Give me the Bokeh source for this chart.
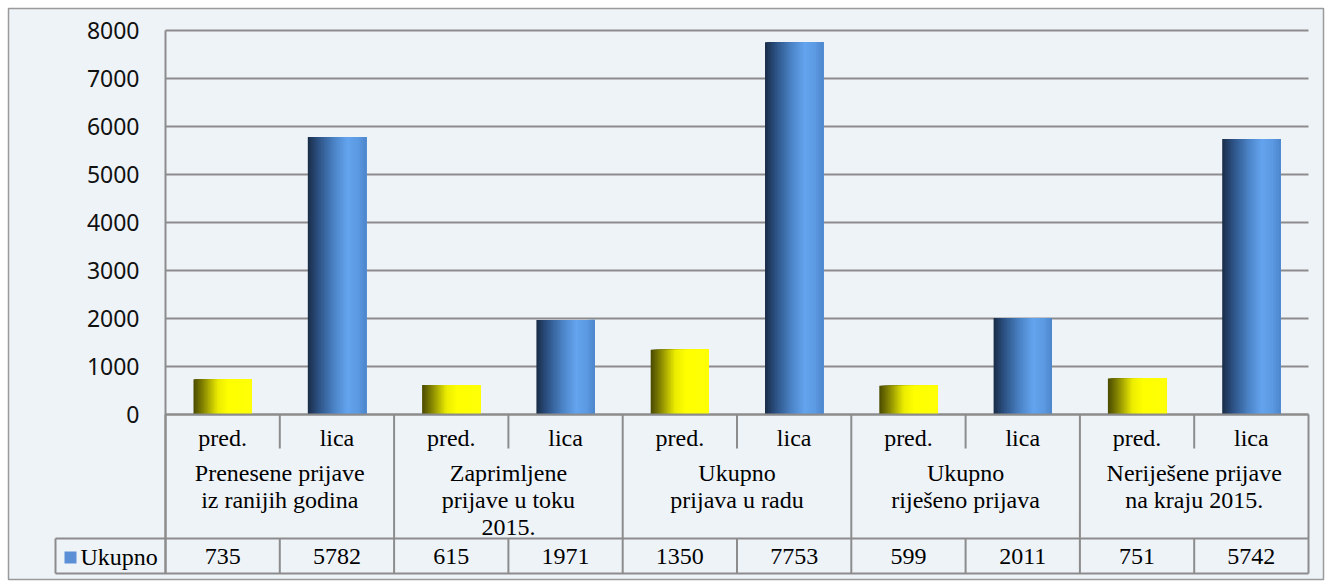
from bokeh.plotting import figure
from bokeh.models import Range1d, FixedTicker, ColumnDataSource
from bokeh.embed import file_html
from bokeh.resources import INLINE
from bokeh.core.properties import value

# ---------------- data ----------------
groups = [
    "Prenesene prijave\niz ranijih godina",
    "Zaprimljene\nprijave u toku\n2015.",
    "Ukupno\nprijava u radu",
    "Ukupno\nriješeno prijava",
    "Neriješene prijave\nna kraju 2015.",
]
subs = ["pred.", "lica"]
pred = [735, 615, 1350, 599, 751]
lica = [5782, 1971, 7753, 2011, 5742]
series_name = "Ukupno"
y_ticks = [0, 1000, 2000, 3000, 4000, 5000, 6000, 7000, 8000]

# ---------------- geometry ----------------
W, H = 1326, 588
ML, MT, MR, MB = 8, 8, 3, 9
FW, FH = W - ML - MR, H - MT - MB      # frame size
PX_X = 114.3          # px per sub column
PX_Y = 0.048          # px per unit
X0_PX, Y0_PX = 157, 406                # zero position inside frame
x_start = -X0_PX / PX_X
x_end = (FW - X0_PX) / PX_X
y_end = Y0_PX / PX_Y
y_start = -(FH - Y0_PX) / PX_Y

def dy(px):   # px below zero line -> data
    return -px / PX_Y

def dx(px):
    return px / PX_X

row1_bot = dy(34)
row3_top = dy(124)
tbl_bot = dy(159)
leg_left = dx(-110)

GRID = "#8c8c8c"
BG = "#eef3f8"
SERIF = value("Liberation Serif")
FS = "24px"

p = figure(width=W, height=H, output_backend="svg", toolbar_location=None,
           x_range=Range1d(x_start, x_end), y_range=Range1d(y_start, y_end),
           x_axis_location=None,
           min_border_left=ML, min_border_top=MT, min_border_right=MR, min_border_bottom=MB,
           background_fill_color=BG, border_fill_color="white")
p.xgrid.visible = False
p.ygrid.visible = False
p.outline_line_color = "#9a9a9a"
p.outline_line_width = 1.5

ax = p.yaxis[0]
ax.fixed_location = 0
ax.bounds = (tbl_bot, max(y_ticks))
ax.ticker = FixedTicker(ticks=y_ticks)
ax.axis_line_color = GRID
ax.axis_line_width = 2
ax.major_tick_line_color = None
ax.minor_tick_line_color = None
ax.major_tick_out = 0
ax.major_label_standoff = 26
ax.major_label_text_font = "Noto Sans"
ax.major_label_text_font_size = "23px"
ax.major_label_text_color = "#111111"

ncols = len(groups) * len(subs)

# gridlines
p.segment(x0=[0] * len(y_ticks), x1=[ncols] * len(y_ticks), y0=y_ticks, y1=y_ticks,
          line_color=GRID, line_width=2)

# ---------------- bars with gradient ----------------
def hex2rgb(h):
    h = h.lstrip("#")
    return tuple(int(h[i:i + 2], 16) for i in (0, 2, 4))

def grad(stops, t):
    for (t0, c0), (t1, c1) in zip(stops, stops[1:]):
        if t0 <= t <= t1:
            f = (t - t0) / (t1 - t0) if t1 > t0 else 0
            a, b = hex2rgb(c0), hex2rgb(c1)
            return "#%02x%02x%02x" % tuple(int(round(a[i] + (b[i] - a[i]) * f)) for i in range(3))
    return stops[-1][1]

yellow_stops = [(0, "#4a4a00"), (0.15, "#7f7f00"), (0.42, "#ecec00"), (0.6, "#ffff00"), (1, "#ffff08")]
blue_stops = [(0, "#1a2c47"), (0.18, "#2c5183"), (0.45, "#4b83c6"), (0.68, "#64a4ee"), (0.86, "#5c9ae2"), (1, "#4d86cc")]

N = 40
BW = 0.51
lefts, rights, tops, cols = [], [], [], []
for gi in range(len(groups)):
    for si, (vals, stops) in enumerate([(pred, yellow_stops), (lica, blue_stops)]):
        cx = gi * 2 + si + 0.5
        for k in range(N):
            t = k / N
            lefts.append(cx - BW / 2 + t * BW)
            rights.append(cx + BW / 2)
            tops.append(vals[gi])
            cols.append(grad(stops, (k + 0.5) / N))
src = ColumnDataSource(dict(left=lefts, right=rights, top=tops, color=cols))
p.quad(left="left", right="right", top="top", bottom=0, fill_color="color",
       line_color=None, source=src)

# ---------------- data table ----------------
p.segment(x0=[0, leg_left, leg_left], x1=[ncols, ncols, ncols],
          y0=[0, row3_top, tbl_bot], y1=[0, row3_top, tbl_bot],
          line_color=GRID, line_width=2)
gx = [i * 2 for i in range(len(groups) + 1)]
p.segment(x0=gx, x1=gx, y0=[0] * len(gx), y1=[tbl_bot] * len(gx), line_color=GRID, line_width=2)
sx = [i * 2 + 1 for i in range(len(groups))]
p.segment(x0=sx + sx, x1=sx + sx, y0=[0] * len(sx) + [row3_top] * len(sx),
          y1=[row1_bot] * len(sx) + [tbl_bot] * len(sx), line_color=GRID, line_width=2)
p.segment(x0=[leg_left], x1=[leg_left], y0=[row3_top], y1=[tbl_bot], line_color=GRID, line_width=2)

sub_x = [i + 0.5 for i in range(ncols)]
sub_t = [subs[i % 2] for i in range(ncols)]
p.text(x=sub_x, y=[dy(23)] * ncols, text=sub_t, text_font=SERIF, text_font_size=FS,
       text_align="center", text_baseline="middle", text_color="black")
p.text(x=[i * 2 + 1 for i in range(len(groups))], y=[dy(45)] * len(groups), text=groups,
       text_font=SERIF, text_font_size=FS, text_align="center", text_baseline="top",
       text_line_height=1.05, text_color="black")
vals_all = []
for a, b in zip(pred, lica):
    vals_all += [str(a), str(b)]
p.text(x=sub_x, y=[dy(142)] * ncols, text=vals_all, text_font=SERIF, text_font_size=FS,
       text_align="center", text_baseline="middle", text_color="black")
p.scatter(x=[dx(-95)], y=[dy(143)], marker="square", size=12, fill_color="#5b8fd6", line_color=None)
p.text(x=[dx(-85)], y=[dy(142)], text=[series_name], text_font=SERIF, text_font_size=FS,
       text_align="left", text_baseline="middle", text_color="black")

open("out.html", "w").write(file_html(p, INLINE))
